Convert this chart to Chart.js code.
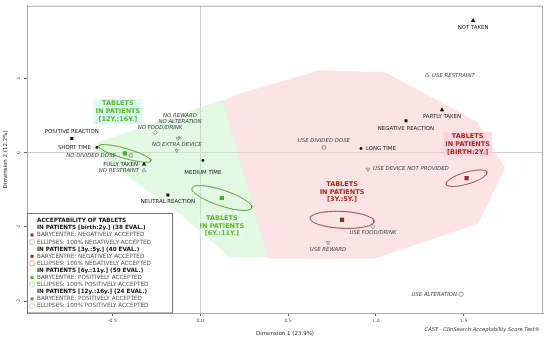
<!DOCTYPE html>
<html>
<head>
<meta charset="utf-8">
<script src="https://cdn.jsdelivr.net/npm/chart.js@4.4.0/dist/chart.umd.min.js"></script>
<style>
html, body { margin: 0; padding: 0; background: #fff; }
#wrap { width: 550px; height: 340px; }
</style>
</head>
<body>
<div id="wrap"><canvas id="plot"></canvas></div>
<script>
// modalites actives (points noirs)
const activNames = ['NOT TAKEN', 'PARTLY TAKEN', 'FULLY TAKEN', 'POSITIVE REACTION', 'NEGATIVE REACTION',
    'NEUTRAL REACTION', 'SHORT TIME', 'MEDIUM TIME', 'LONG TIME'];
const activX = [1.553, 1.376, -0.32, -0.731, 1.171, -0.184, -0.588, 0.015, 0.915];
const activY = [1.773, 0.573, -0.16, 0.187, 0.427, -0.573, 0.067, -0.107, 0.053];

// modalites supplementaires (gris, italique)
const supNames = ['USE RESTRAINT', 'NO RESTRAINT', 'USE DIVIDED DOSE', 'NO DIVIDED DOSE', 'USE DEVICE NOT PROVIDED',
    'NO EXTRA DEVICE', 'USE FOOD/DRINK', 'NO FOOD/DRINK', 'USE REWARD', 'NO REWARD', 'USE ALTERATION', 'NO ALTERATION'];
const supX = [1.291, -0.32, 0.704, -0.395, 0.955, -0.133, 0.983, -0.257, 0.727, -0.127, 1.485, -0.115];
const supY = [1.04, -0.24, 0.067, -0.04, -0.227, 0.027, -1.0, 0.267, -1.213, 0.187, -1.907, 0.2];

// barycentres des groupes d'age
const groupNames = ['[BIRTH:2Y.]', '[3Y.:5Y.]', '[6Y.:11Y.]', '[12Y.:16Y.]'];
const groupLegend = ['IN PATIENTS [birth:2y.] (38 EVAL.)', 'IN PATIENTS [3y.:5y.] (40 EVAL.)',
    'IN PATIENTS [6y.:11y.] (59 EVAL.)', 'IN PATIENTS [12y.:16y.] (24 EVAL.)'];
const groupAccept = ['NEGATIVELY', 'NEGATIVELY', 'POSITIVELY', 'POSITIVELY'];
const baryX = [1.516, 0.807, 0.123, -0.429];
const baryY = [-0.347, -0.907, -0.613, -0.013];
// demi-axes des ellipses (unites des dimensions)
const ellMajor = [[0.116, 0.08], [0.182, -0.02], [0.170, -0.133], [0.148, -0.1]];
const ellMinor = [[0.0097, -0.076], [0, -0.113], [-0.014, -0.101], [-0.008, -0.064]];

// enveloppes
const hullNegX = [0.129, 0.215, 0.682, 1.052, 1.576, 1.735, 1.581, 0.995, 0.386];
const hullNegY = [0.693, 0.787, 1.107, 1.08, 0.413, -0.213, -0.96, -1.427, -1.427];
const hullPosX = [-0.611, -0.571, 0.129, 0.386, 0.17, -0.115, -0.588];
const hullPosY = [0.04, 0.147, 0.707, -1.413, -1.413, -0.827, -0.027];

const xTicks = [-0.5, 0, 0.5, 1, 1.5];
const yTicks = [1, 0, -1, -2];

// styles
const activShape = ['triangle', 'triangle', 'triangle', 'rect', 'rect', 'rect', 'circle', 'circle', 'circle'];
const activSize = [2.6, 2.6, 2.6, 2.1, 2.1, 2.1, 1.4, 1.4, 1.4];
const supShape = ['triangle', 'triangle', 'rect', 'rect', 'triangle', 'triangle', 'rectRot', 'rectRot', 'triangle', 'triangle', 'circle', 'crossRot'];
const supRot = [0, 0, 0, 0, 180, 180, 0, 0, 180, 180, 0, 0];
const activLab = [['c', 0, 7], ['c', 0, 7], ['r', -6, 0], ['c', 0, -7], ['c', 0, 8], ['c', 0, 7], ['r', -6, 0], ['c', 0, 12], ['l', 5, 0]];
const supLab = [['l', 5, 0], ['r', -5, 0], ['c', 0, -7], ['r', -15, 0], ['l', 5, -1], ['c', 0, -6], ['c', 0, 6],
    ['c', 5, -5], ['c', 0, 7], ['c', 2, -23], ['r', -4, 0], ['c', 0, -16]];
const groupLab = [[1, -34], [0, -28], [0, 28], [-7, -42]];
const groupColor = ['#a8281c', '#a8281c', '#5cb82a', '#5cb82a'];
const groupBox = ['rgba(255,210,222,0.8)', 'rgba(255,220,226,0.35)', 'rgba(235,252,240,0.35)', 'rgba(215,250,250,0.95)'];
const baryColor = ['#9b2d1d', '#8a2a18', '#4cae1e', '#4cae1e'];
const ellColor = ['#9b4a3a', '#9b4a3a', '#5a9e2e', '#5a9e2e'];
const legEllColor = ['#d9a47a', '#d9a47a', '#b3d68c', '#b3d68c'];

const FONT = 'DejaVu Sans';

let ellipsePts = (cx, cy, u, v) => {
    let pts = [];
    for (let i = 0; i <= 72; i++) {
        let t = i / 72 * 2 * Math.PI;
        pts.push({ x: cx + u[0] * Math.cos(t) + v[0] * Math.sin(t), y: cy + u[1] * Math.cos(t) + v[1] * Math.sin(t) });
    }
    return pts;
};
let closed = (xs, ys) => xs.map((x, i) => ({ x: x, y: ys[i] })).concat([{ x: xs[0], y: ys[0] }]);

let datasets = [];
datasets.push({
    data: closed(hullPosX, hullPosY), showLine: true, fill: 'shape', pointRadius: 0, borderWidth: 0,
    borderColor: 'rgba(0,0,0,0)', backgroundColor: 'rgba(190,240,190,0.45)', order: 10
});
datasets.push({
    data: closed(hullNegX, hullNegY), showLine: true, fill: 'shape', pointRadius: 0, borderWidth: 0,
    borderColor: 'rgba(0,0,0,0)', backgroundColor: 'rgba(250,205,205,0.55)', order: 9
});
for (let g = 0; g < baryX.length; g++) {
    datasets.push({
        data: ellipsePts(baryX[g], baryY[g], ellMajor[g], ellMinor[g]), showLine: true, fill: false,
        pointRadius: 0, borderWidth: 1, borderColor: ellColor[g], tension: 0, order: 5
    });
}
datasets.push({
    data: baryX.map((x, i) => ({ x: x, y: baryY[i] })), showLine: false, pointStyle: 'rect',
    pointRadius: 3, pointBackgroundColor: baryColor, pointBorderColor: baryColor, pointBorderWidth: 0, order: 2
});
datasets.push({
    data: supX.map((x, i) => ({ x: x, y: supY[i] })), showLine: false, pointStyle: supShape, pointRotation: supRot,
    pointRadius: 2.2, pointBackgroundColor: 'rgba(255,255,255,0)', pointBorderColor: '#777', pointBorderWidth: 0.7, order: 1
});
datasets.push({
    data: activX.map((x, i) => ({ x: x, y: activY[i] })), showLine: false, pointStyle: activShape,
    pointRadius: activSize, pointBackgroundColor: '#111', pointBorderColor: '#111', pointBorderWidth: 0, order: 0
});

let etiquetas = {
    id: 'etiquetas',
    afterDatasetsDraw(chart) {
        let ctx = chart.ctx, sx = chart.scales.x, sy = chart.scales.y;
        ctx.save();
        ctx.textBaseline = 'middle';
        let put = (txt, x, y, lab) => {
            ctx.textAlign = lab[0] === 'c' ? 'center' : (lab[0] === 'l' ? 'left' : 'right');
            ctx.fillText(txt, sx.getPixelForValue(x) + lab[1], sy.getPixelForValue(y) + lab[2]);
        };
        ctx.font = '5.4px "' + FONT + '"';
        ctx.fillStyle = '#222';
        activNames.forEach((n, i) => put(n, activX[i], activY[i], activLab[i]));
        ctx.font = 'italic 5.4px "' + FONT + '"';
        ctx.fillStyle = '#444';
        supNames.forEach((n, i) => put(n, supX[i], supY[i], supLab[i]));

        // etiquettes des groupes
        ctx.font = 'bold 6.5px "' + FONT + '"';
        ctx.textAlign = 'center';
        groupNames.forEach((n, g) => {
            let lines = ['TABLETS', 'IN PATIENTS', n];
            let cx = sx.getPixelForValue(baryX[g]) + groupLab[g][0];
            let cy = sy.getPixelForValue(baryY[g]) + groupLab[g][1];
            let w = Math.max(...lines.map(l => ctx.measureText(l).width)) + 4;
            ctx.fillStyle = groupBox[g];
            ctx.fillRect(cx - w / 2, cy - 12.5, w, 25);
            ctx.fillStyle = groupColor[g];
            lines.forEach((l, k) => ctx.fillText(l, cx, cy + (k - 1) * 7.7));
        });
        ctx.restore();
    },
    afterDraw(chart) {
        let ctx = chart.ctx, a = chart.chartArea;
        ctx.save();
        // cadre
        ctx.strokeStyle = '#aaa';
        ctx.lineWidth = 1;
        ctx.beginPath();
        ctx.moveTo(a.left, a.top + 0.5);
        ctx.lineTo(a.right - 0.5, a.top + 0.5);
        ctx.lineTo(a.right - 0.5, a.bottom);
        ctx.stroke();

        // leyenda
        let lx = a.left, ly = 213, lw = 145, lh = a.bottom - ly;
        ctx.fillStyle = '#fff';
        ctx.fillRect(lx, ly, lw, lh);
        ctx.strokeStyle = '#555';
        ctx.lineWidth = 0.8;
        ctx.strokeRect(lx + 0.5, ly + 0.5, lw, lh - 0.5);
        ctx.textBaseline = 'middle';
        ctx.textAlign = 'left';
        let y = 220.8, dy = 7.1, tx = 37;
        ctx.font = 'bold 5.7px "' + FONT + '"';
        ctx.fillStyle = '#111';
        ctx.fillText('ACCEPTABILITY OF TABLETS', tx, y);
        groupLegend.forEach((t, g) => {
            y += dy;
            ctx.font = 'bold 5.7px "' + FONT + '"';
            ctx.fillStyle = '#111';
            ctx.fillText(t, tx, y);
            y += dy;
            ctx.fillStyle = baryColor[g];
            ctx.fillRect(30.5, y - 1.5, 3, 3);
            ctx.font = '5.7px "' + FONT + '"';
            ctx.fillStyle = '#555';
            ctx.fillText('BARYCENTRE: ' + groupAccept[g] + ' ACCEPTED', tx, y);
            y += dy;
            ctx.beginPath();
            ctx.arc(32, y, 2.6, 0, 2 * Math.PI);
            ctx.strokeStyle = legEllColor[g];
            ctx.lineWidth = 0.7;
            ctx.stroke();
            ctx.fillStyle = '#555';
            ctx.fillText('ELLIPSES: 100% ' + groupAccept[g] + ' ACCEPTED', tx, y);
        });

        ctx.font = 'italic 5.2px "' + FONT + '"';
        ctx.fillStyle = '#333';
        ctx.textAlign = 'right';
        ctx.fillText('CAST - ClinSearch Acceptability Score Test\u00AE', 540, 330);
        ctx.restore();
    }
};

let zeroGrid = ctx => ctx.tick && ctx.tick.value === 0 ? '#cfcfcf' : 'rgba(0,0,0,0)';

new Chart(document.getElementById('plot'), {
    type: 'line',
    data: { datasets: datasets },
    options: {
        responsive: true,
        maintainAspectRatio: false,
        animation: false,
        events: [],
        layout: { padding: { top: 3, right: 7, left: 0, bottom: 0 } },
        plugins: { legend: { display: false }, tooltip: { enabled: false } },
        scales: {
            x: {
                type: 'linear', min: -0.986, max: 1.951,
                afterFit: s => { s.height = 27; },
                afterBuildTicks: s => { s.ticks = xTicks.map(v => ({ value: v })); },
                border: { color: '#aaa' },
                grid: { color: zeroGrid, tickColor: '#666', tickLength: 3, lineWidth: 1 },
                ticks: { font: { family: FONT, size: 4.6 }, color: '#555', padding: 2, maxRotation: 0,
                    callback: v => v.toFixed(1) },
                title: { display: true, text: 'Dimension 1 (23.9%)', font: { family: FONT, size: 5.5 }, color: '#222',
                    padding: { top: 0, bottom: 3 } }
            },
            y: {
                type: 'linear', min: -2.16, max: 1.973,
                afterFit: s => { s.width = 27; },
                afterBuildTicks: s => { s.ticks = yTicks.map(v => ({ value: v })); },
                border: { color: '#aaa' },
                grid: { color: zeroGrid, tickColor: '#666', tickLength: 3, lineWidth: 1 },
                ticks: { font: { family: FONT, size: 4.6 }, color: '#555', padding: 3, minRotation: 90, maxRotation: 90,
                    crossAlign: 'center', callback: v => String(v) },
                title: { display: true, text: 'Dimension 2 (12.2%)', font: { family: FONT, size: 5.5 }, color: '#222',
                    padding: { top: 2, bottom: 0 } }
            }
        }
    },
    plugins: [etiquetas]
});
</script>
</body>
</html>
